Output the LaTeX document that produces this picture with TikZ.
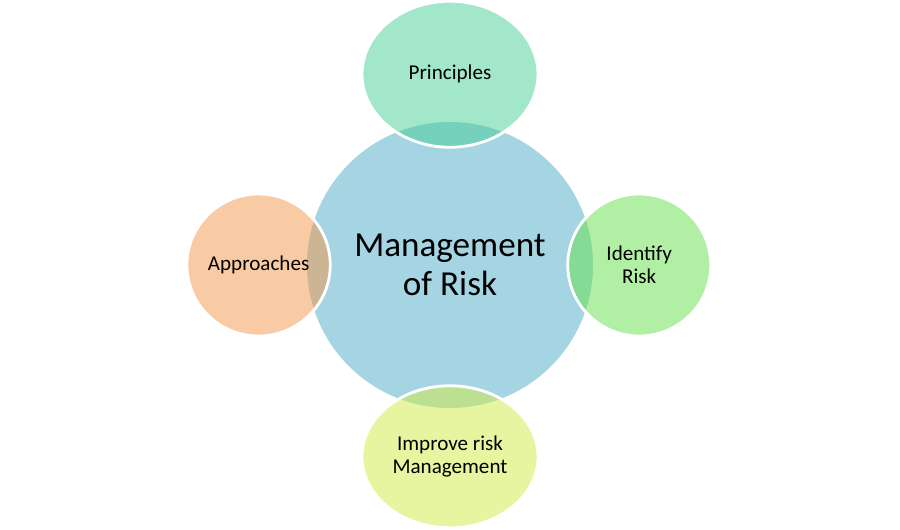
\documentclass[tikz,border=0pt]{standalone}
\usepackage{fontspec}
\setmainfont{Carlito}
\usetikzlibrary{positioning,shapes.geometric}
\definecolor{hubblue}{RGB}{165,213,226}
\definecolor{prinmint}{RGB}{71,207,151}
\definecolor{apprpeach}{RGB}{243,151,73}
\definecolor{identgreen}{RGB}{99,225,73}
\definecolor{imprlime}{RGB}{209,235,65}
\tikzset{
  hub/.style={circle,fill=hubblue,minimum size=5.72cm,inner sep=0pt,
              align=center,font=\fontsize{20}{22}\selectfont},
  sat/.style={ellipse,draw=white,line width=1.6pt,fill opacity=0.5,
              text opacity=1,inner sep=0pt,align=center,
              minimum width=2.86cm,minimum height=2.84cm,
              font=\fontsize{12}{13.2}\selectfont},
  satA/.style={sat,fill=prinmint,minimum width=3.52cm,minimum height=2.92cm},
  satB/.style={sat,fill=apprpeach},
  satC/.style={sat,fill=identgreen},
  satD/.style={sat,fill=imprlime,minimum width=3.52cm,minimum height=2.84cm},
}
\begin{document}
\begin{tikzpicture}
  \useasboundingbox (0,0) rectangle (18,-10.58);
  % central circle
  \node[hub] (hub) at (9.0,-5.3) {Management\\of Risk};
  % the four around it
  \node[satA,above=-0.54cm of hub] (prin) {Principles};
  \node[satB,left=-0.5cm of hub] (appr) {Approaches};
  \node[satC,right=-0.54cm of hub] (ident) {Identify\\Risk};
  \node[satD,below=-0.48cm of hub] (impr) {Improve risk\\Management};
\end{tikzpicture}
\end{document}
